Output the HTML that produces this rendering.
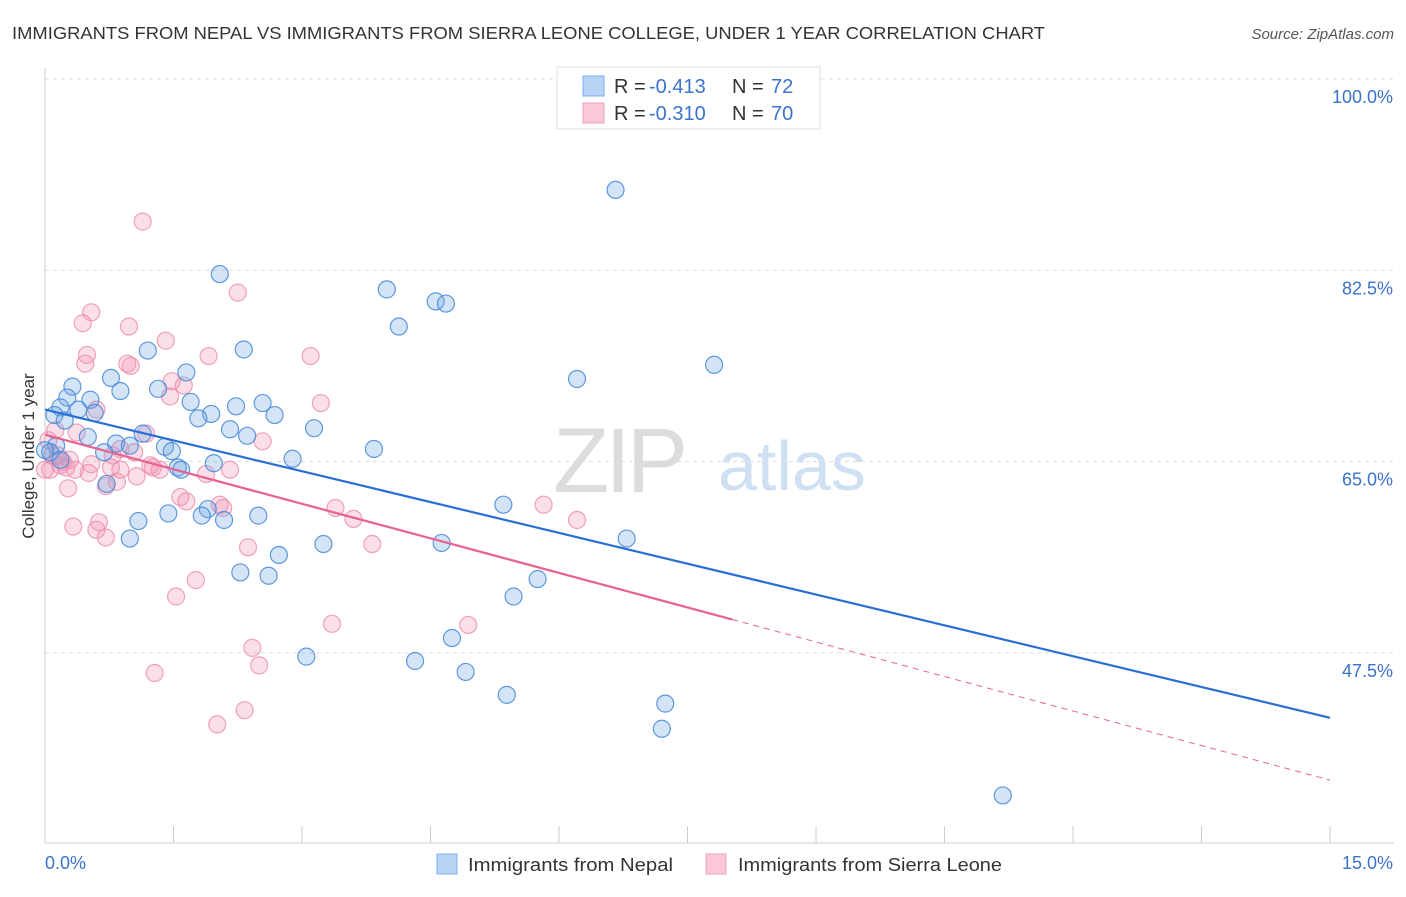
<!DOCTYPE html>
<html><head><meta charset="utf-8">
<style>
body{margin:0;background:#fff;font-family:"Liberation Sans",sans-serif;}
svg text{font-family:"Liberation Sans",sans-serif;}
</style></head>
<body>
<svg id="chart" width="1406" height="892" viewBox="0 0 1406 892" xmlns="http://www.w3.org/2000/svg">
<text x="12" y="39" font-size="17.5" fill="#333" textLength="1033" lengthAdjust="spacingAndGlyphs">IMMIGRANTS FROM NEPAL VS IMMIGRANTS FROM SIERRA LEONE COLLEGE, UNDER 1 YEAR CORRELATION CHART</text>
<text x="1394" y="39" font-size="15" fill="#555" font-style="italic" text-anchor="end">Source: ZipAtlas.com</text>
<g>
<text x="553" y="492" font-size="92" fill="#dcdcdc" font-family="Liberation Serif, serif" letter-spacing="-4">ZIP</text>
<text x="718" y="490" font-size="70" fill="#cfe0f3">atlas</text>
</g>
<g id="grid"></g>
<g id="axes"></g>
<g id="points"></g>
<g id="trends"></g>
<g>
<rect x="557" y="67" width="263" height="62" fill="#fff" stroke="#ddd"/>
<rect x="583" y="76" width="21" height="20" fill="#b8d3f5" stroke="#7aaee8"/>
<text x="614" y="93" font-size="20" fill="#333">R = </text>
<text x="649" y="93" font-size="20" fill="#3b73cc">-0.413</text>
<text x="732" y="93" font-size="20" fill="#333">N = </text>
<text x="771" y="93" font-size="20" fill="#3b73cc">72</text>
<rect x="583" y="103" width="21" height="20" fill="#f9c9d7" stroke="#f0a0b8"/>
<text x="614" y="120" font-size="20" fill="#333">R = </text>
<text x="649" y="120" font-size="20" fill="#3b73cc">-0.310</text>
<text x="732" y="120" font-size="20" fill="#333">N = </text>
<text x="771" y="120" font-size="20" fill="#3b73cc">70</text>
</g>
<g>
<rect x="437" y="854" width="20" height="20" fill="#b8d3f5" stroke="#7aaee8"/>
<text x="468" y="871" font-size="18" fill="#333" textLength="205" lengthAdjust="spacingAndGlyphs">Immigrants from Nepal</text>
<rect x="706" y="854" width="20" height="20" fill="#f9c9d7" stroke="#f0a0b8"/>
<text x="738" y="871" font-size="18" fill="#333" textLength="264" lengthAdjust="spacingAndGlyphs">Immigrants from Sierra Leone</text>
</g>
<text transform="translate(34,456) rotate(-90)" font-size="17" fill="#333" text-anchor="middle">College, Under 1 year</text>
</svg>
<script>
const yTicks=[100,82.5,65,47.5];
const yTickLabels=["100.0%","82.5%","65.0%","47.5%"];
const xTicks=[0,1.5,3,4.5,6,7.5,9,10.5,12,13.5,15];
const xEndLabels=["0.0%","15.0%"];
const nepalX=[6.66,2.04,3.99,4.56,4.68,4.13,2.32,1.20,7.81,6.21,0.77,1.65,1.32,0.32,0.88,0.26,0.53,0.18,1.70,2.23,2.54,0.39,0.58,1.94,2.68,1.79,0.11,3.14,2.16,2.36,0.50,1.14,1.40,3.84,0.83,1.48,0.99,0.13,0.06,0.69,2.89,1.97,1.55,1.59,0.18,0.72,5.35,1.90,2.49,2.09,1.09,1.83,1.44,6.79,0.99,4.63,3.25,2.73,2.28,2.61,5.75,5.47,4.75,3.05,4.32,4.91,5.39,7.24,7.20,11.18,0.0,0.23];
const nepalY=[91.5,83.8,82.4,81.3,81.1,79.0,76.9,76.8,75.5,74.2,74.3,74.8,73.3,73.5,73.1,72.5,72.3,71.6,72.1,71.7,72.0,71.4,71.1,71.0,70.9,70.6,70.9,69.7,69.6,69.0,68.9,69.2,68.0,67.8,68.3,67.6,68.1,68.1,67.5,67.5,66.9,66.5,66.1,65.9,66.8,64.6,62.7,62.3,61.7,61.3,61.2,61.7,61.9,59.6,59.6,59.2,59.1,58.1,56.5,56.2,55.9,54.3,50.5,48.8,48.4,47.4,45.3,44.5,42.2,36.1,67.7,70.4];
const sierraX=[1.14,2.25,0.54,0.44,0.98,1.41,0.49,1.91,3.10,0.47,0.96,1.00,1.48,1.62,1.46,3.22,0.60,0.12,0.37,2.54,1.18,0.88,1.04,0.08,0.21,0.25,0.18,0.54,0.77,1.26,1.34,1.07,1.88,0.51,0.35,0.84,0.27,0.06,0.71,1.58,1.65,2.04,2.08,3.39,3.60,5.82,6.21,0.33,0.63,0.60,0.71,2.37,3.82,1.76,1.53,4.94,3.35,2.42,2.50,1.28,2.33,2.01,0.0,0.04,0.15,0.79,1.23,2.16,0.29,0.88];
const sierraY=[88.6,82.1,80.3,79.3,79.0,77.7,76.4,76.3,76.3,75.6,75.6,75.4,74.0,73.6,72.6,72.0,71.4,69.5,69.3,68.5,69.2,67.8,67.5,67.2,66.6,66.1,66.3,66.4,66.1,66.1,65.9,65.3,65.5,65.6,65.9,64.8,64.2,65.9,64.4,63.4,63.0,62.7,62.4,62.4,61.4,62.7,61.3,60.7,61.1,60.4,59.7,58.8,59.1,55.8,54.3,51.7,51.8,49.6,48.0,47.3,43.9,42.6,65.9,68.6,67.2,67.2,66.3,65.9,66.8,65.9];
const nepalTrend=[71.4,43.2];
const sierraTrend=[69.1,37.5];
const sierraSolidEnd=8.02;

const NS="http://www.w3.org/2000/svg";
function xs(v){return 45+v*85.67;}
function ys(v){return 97+(100-v)*10.93;}
function mk(tag,attrs,parent){const e=document.createElementNS(NS,tag);for(const k in attrs)e.setAttribute(k,attrs[k]);parent.appendChild(e);return e;}
const grid=document.getElementById('grid'),axes=document.getElementById('axes'),pts=document.getElementById('points'),tr=document.getElementById('trends');
yTicks.forEach((t,i)=>{
 const l=mk('line',{x1:45,x2:1394,y1:ys(t)-18,y2:ys(t)-18,stroke:'#ddd','stroke-dasharray':'4,4'},grid);
 
 
 const tx=mk('text',{x:1393,y:ys(t)+6,'font-size':18,fill:'#3b73cc','text-anchor':'end'},axes);
 tx.textContent=yTickLabels[i];
 
 
});
const ax=mk('line',{x1:45,x2:45,y1:68,y2:843,stroke:'#ccc'},axes);


const bx=mk('line',{x1:45,x2:1394,y1:843,y2:843,stroke:'#ccc'},axes);


xTicks.forEach(t=>{
 const l=mk('line',{x1:xs(t),x2:xs(t),y1:826,y2:843,stroke:'#ccc'},axes);
 
 
});
const xl0=mk('text',{x:45,y:869,'font-size':18,fill:'#3b73cc'},axes);xl0.textContent=xEndLabels[0];


const xl1=mk('text',{x:1393,y:869,'font-size':18,fill:'#3b73cc','text-anchor':'end'},axes);xl1.textContent=xEndLabels[1];


sierraX.forEach((x,i)=>{
 const c=mk('circle',{cx:xs(x),cy:ys(sierraY[i]),r:8.5,fill:'rgba(242,150,180,0.3)',stroke:'rgba(236,140,170,0.8)','stroke-width':1.2},pts);
 
 
});
nepalX.forEach((x,i)=>{
 const c=mk('circle',{cx:xs(x),cy:ys(nepalY[i]),r:8.5,fill:'rgba(110,165,230,0.3)',stroke:'rgba(70,135,215,0.85)','stroke-width':1.2},pts);
 
 
});
const nt=mk('line',{x1:xs(0),y1:ys(nepalTrend[0]),x2:xs(15),y2:ys(nepalTrend[1]),stroke:'#2a6fd6','stroke-width':2.2},tr);


const sm=sierraTrend[0]+(sierraTrend[1]-sierraTrend[0])*sierraSolidEnd/15;
const st=mk('line',{x1:xs(0),y1:ys(sierraTrend[0]),x2:xs(sierraSolidEnd),y2:ys(sm),stroke:'#e8628f','stroke-width':2.2},tr);


const sd=mk('line',{x1:xs(sierraSolidEnd),y1:ys(sm),x2:xs(15),y2:ys(sierraTrend[1]),stroke:'#e8628f','stroke-width':1,'stroke-dasharray':'6,5'},tr);


</script>
</body></html>
